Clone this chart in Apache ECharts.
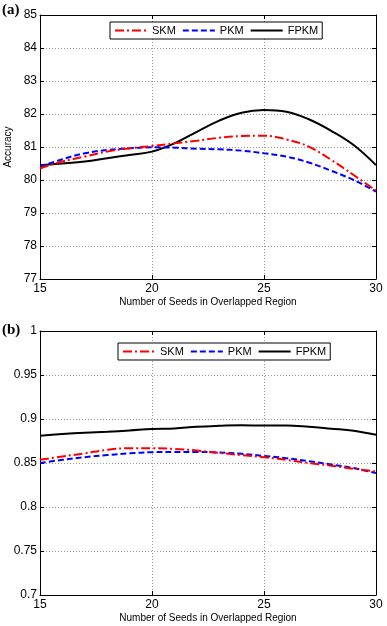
<!DOCTYPE html>
<html>
<head>
<meta charset="utf-8">
<script src="https://cdn.jsdelivr.net/npm/echarts@6/dist/echarts.min.js"></script>
<style>
html,body{margin:0;padding:0;background:#fff;}
#chart{width:387px;height:626px;}
</style>
</head>
<body>
<div id="chart"></div>
<script>
// seeds in overlapped region
const seeds = [15,16,17,18,19,20,21,22,23,24,25,26,27,28,29,30];

// (a) accuracy
const accSKM  = [80.35,80.56,80.71,80.86,80.96,81.03,81.11,81.19,81.28,81.33,81.34,81.23,81.01,80.61,80.15,79.68];
const accPKM  = [80.40,80.63,80.81,80.91,80.96,80.99,80.98,80.95,80.93,80.89,80.81,80.71,80.53,80.28,80.00,79.65];
const accFPKM = [80.45,80.50,80.56,80.66,80.76,80.86,81.11,81.46,81.80,82.04,82.12,82.07,81.84,81.49,81.06,80.45];

// (b) f-score
const fSKM  = [0.8536,0.8574,0.8610,0.8650,0.8668,0.8668,0.8660,0.8642,0.8615,0.8590,0.8566,0.8536,0.8500,0.8470,0.8434,0.8404];
const fPKM  = [0.8500,0.8536,0.8566,0.8590,0.8610,0.8623,0.8626,0.8626,0.8619,0.8604,0.8580,0.8555,0.8520,0.8483,0.8442,0.8385];
const fFPKM = [0.8810,0.8829,0.8844,0.8855,0.8870,0.8887,0.8893,0.8912,0.8923,0.8930,0.8925,0.8927,0.8912,0.8890,0.8867,0.8820];

const names = ["SKM","PKM","FPKM"];
const colors = ["#ff0000","#0000ff","#000000"];
const dashes = [[9,3,2,3],[6,3],"solid"];

const chart = echarts.init(document.getElementById("chart"));

const font = "Liberation Sans";

function pairs(ys){
  return seeds.map((x,i)=>[x,ys[i]]);
}

function xAxes(gi){
  return [
    {
      type:"value", gridIndex:gi, min:15, max:30, interval:5,
      name:"Number of Seeds in Overlapped Region",
      nameLocation:"middle", nameGap:18,
      nameTextStyle:{color:"#000",fontSize:10,fontFamily:font},
      axisLine:{lineStyle:{color:"#000",width:1}},
      axisTick:{inside:true,length:4,lineStyle:{color:"#000"}},
      axisLabel:{color:"#000",fontSize:12,fontFamily:font,margin:4},
      splitLine:{show:true,lineStyle:{color:"#999",type:[1,2],width:1}}
    },
    {
      type:"value", gridIndex:gi, position:"top", min:15, max:30, interval:5,
      axisLine:{lineStyle:{color:"#000",width:1}},
      axisTick:{inside:true,length:4,lineStyle:{color:"#000"}},
      axisLabel:{show:false},
      splitLine:{show:false}
    }
  ];
}

function yAxes(gi,min,max,step,title,fmt){
  return [
    {
      type:"value", gridIndex:gi, min:min, max:max, interval:step,
      name:title, nameLocation:"middle", nameGap:26,
      nameTextStyle:{color:"#000",fontSize:10,fontFamily:font},
      axisLine:{show:true,lineStyle:{color:"#000",width:1}},
      axisTick:{show:true,inside:true,length:4,lineStyle:{color:"#000"}},
      axisLabel:{color:"#000",fontSize:12,fontFamily:font,margin:3,formatter:fmt},
      splitLine:{show:true,lineStyle:{color:"#999",type:[1,2],width:1}}
    },
    {
      type:"value", gridIndex:gi, position:"right", min:min, max:max, interval:step,
      axisLine:{show:true,lineStyle:{color:"#000",width:1}},
      axisTick:{show:true,inside:true,length:4,lineStyle:{color:"#000"}},
      axisLabel:{show:false},
      splitLine:{show:false}
    }
  ];
}

function lineSeries(gi,data){
  return data.map((ys,k)=>({
    name:names[k],
    type:"line",
    xAxisIndex:gi*2,
    yAxisIndex:gi*2,
    data:pairs(ys),
    smooth:0.4,
    symbol:"none",
    lineStyle:{color:colors[k],width:2,type:dashes[k]},
    itemStyle:{color:colors[k]},
    z:3-k
  }));
}

function legendBox(left,top){
  return {
    show:true,
    data:names,
    left:left, top:top,
    orient:"horizontal",
    itemWidth:32, itemHeight:10, itemGap:6,
    padding:[3,4,3,4],
    backgroundColor:"#fff",
    borderColor:"#000", borderWidth:1, borderRadius:0,
    textStyle:{color:"#000",fontSize:11,fontFamily:font},
    itemStyle:{opacity:0},
    selectedMode:false,
    z:10
  };
}

const fFmt = v => String(parseFloat(v.toFixed(2)));

chart.setOption({
  animation:false,
  backgroundColor:"#fff",
  title:[
    {text:"(a)",left:2,top:3,padding:0,textStyle:{fontFamily:"Liberation Serif",fontWeight:"bold",fontSize:15,color:"#000"}},
    {text:"(b)",left:2,top:323,padding:0,textStyle:{fontFamily:"Liberation Serif",fontWeight:"bold",fontSize:15,color:"#000"}}
  ],
  legend:[legendBox(110,22),legendBox(118,343)],
  grid:[
    {left:40,right:11,top:15,height:264,outerBoundsMode:"none",containLabel:false},
    {left:40,right:11,top:331,height:264,outerBoundsMode:"none",containLabel:false}
  ],
  xAxis:[].concat(xAxes(0),xAxes(1)),
  yAxis:[].concat(
    yAxes(0,77,85,1,"Accuracy"),
    yAxes(1,0.7,1,0.05,"F-Score",fFmt)
  ),
  series:[].concat(
    lineSeries(0,[accSKM,accPKM,accFPKM]),
    lineSeries(1,[fSKM,fPKM,fFPKM])
  )
});
</script>
</body>
</html>
